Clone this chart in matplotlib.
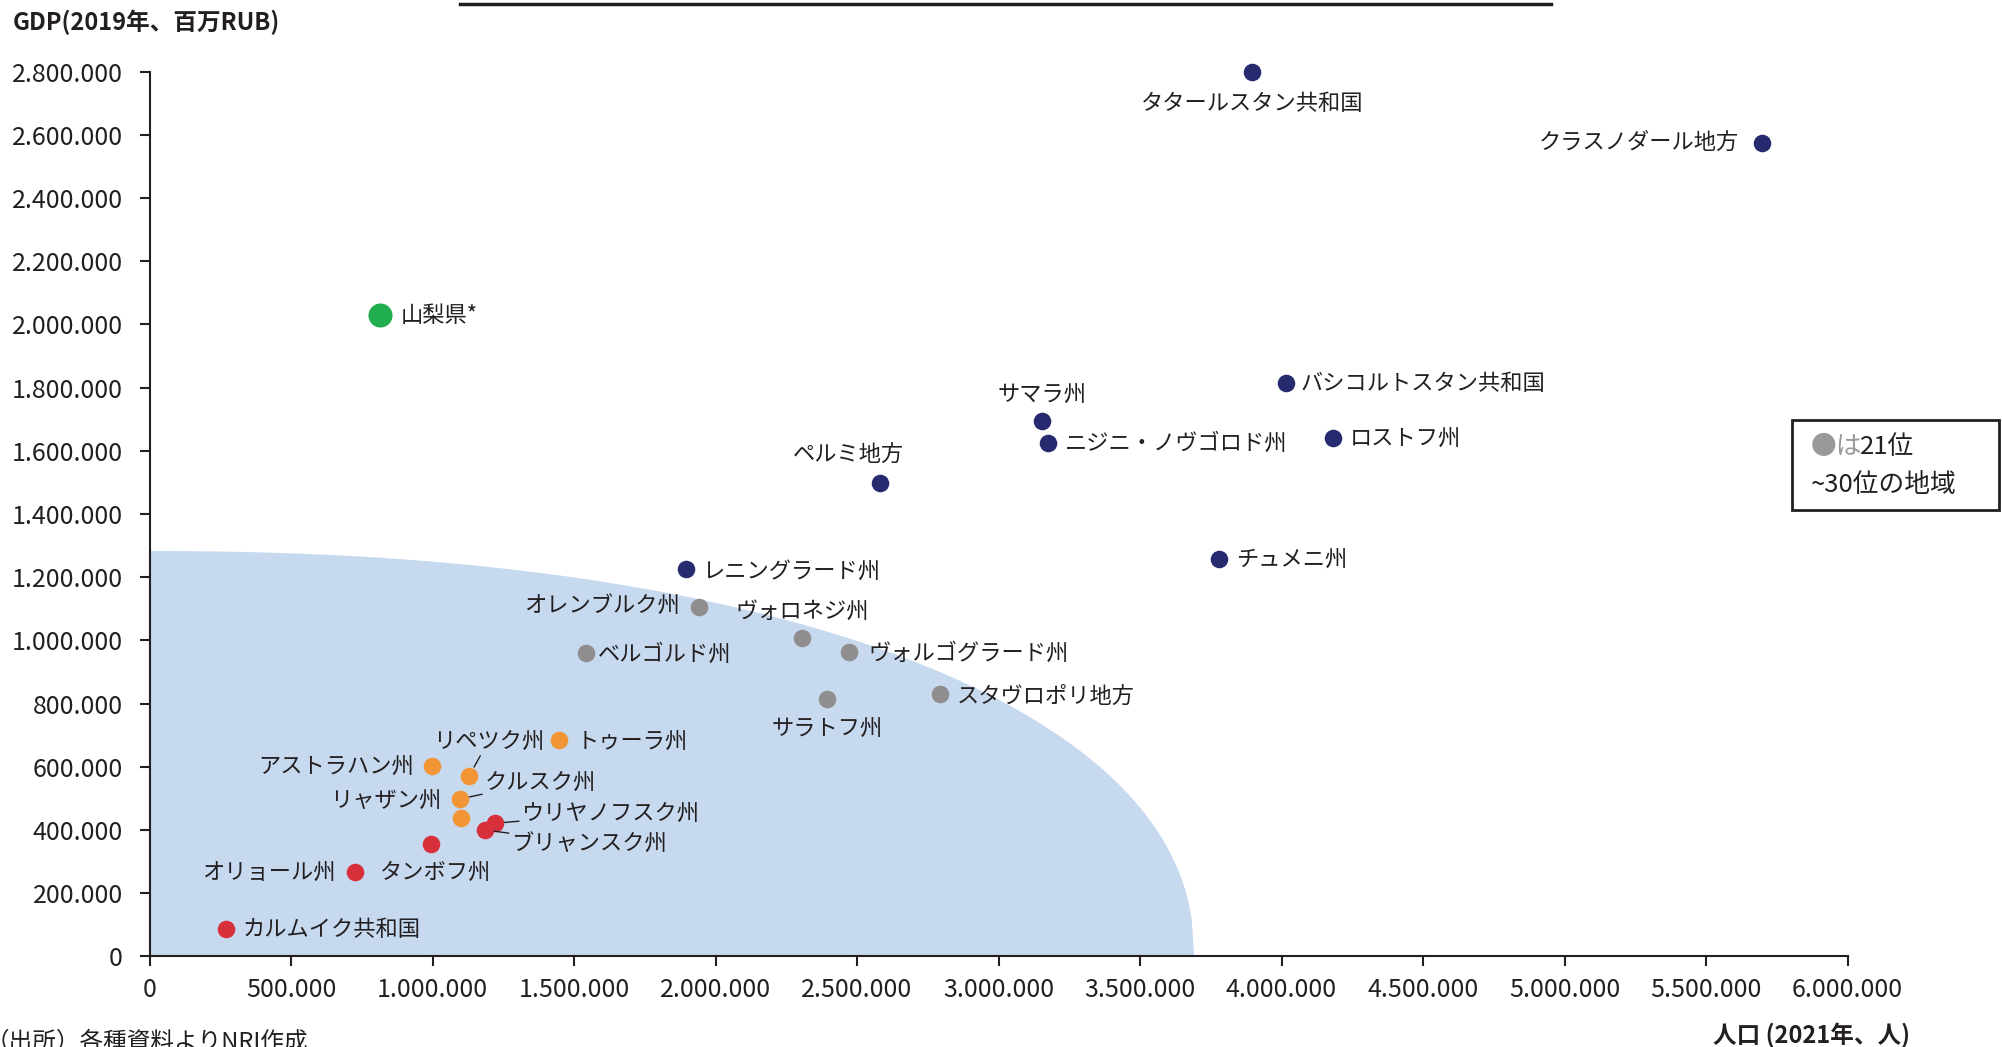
import numpy as np
import matplotlib.pyplot as plt
from matplotlib.patches import Rectangle
from matplotlib.lines import Line2D
from matplotlib.ticker import FuncFormatter

plt.rcParams["font.family"] = ["Noto Sans CJK JP", "DejaVu Sans"]

# Regions: population (2021, persons) and GDP (2019, million RUB)
navy_names = ["タタールスタン共和国", "クラスノダール地方", "バシコルトスタン共和国", "サマラ州",
              "ニジニ・ノヴゴロド州", "ロストフ州", "ペルミ地方", "チュメニ州", "レニングラード州"]
navy_pop = [3896000, 5697000, 4015000, 3153000, 3176000, 4182000, 2580000, 3780000, 1896000]
navy_gdp = [2800000, 2573000, 1814000, 1693000, 1624000, 1640000, 1499000, 1256000, 1225000]

green_names = ["山梨県*"]
green_pop = [816000]
green_gdp = [2028000]

gray_names = ["オレンブルク州", "ヴォロネジ州", "ベルゴルド州", "ヴォルゴグラード州", "サラトフ州", "スタヴロポリ地方"]
gray_pop = [1942000, 2307000, 1543000, 2473000, 2395000, 2794000]
gray_gdp = [1106000, 1006000, 959000, 964000, 814000, 829000]

orange_names = ["トゥーラ州", "アストラハン州", "リペツク州", "クルスク州", "リャザン州"]
orange_pop = [1448000, 998000, 1130000, 1097000, 1099000]
orange_gdp = [684000, 603000, 572000, 498000, 437000]

red_names = ["ウリヤノフスク州", "ブリャンスク州", "タンボフ州", "オリョール州", "カルムイク共和国"]
red_pop = [1220000, 1184000, 994000, 725000, 269000]
red_gdp = [421000, 400000, 355000, 266000, 85000]

x_ticks = np.arange(0, 6000001, 500000)
y_ticks = np.arange(0, 2800001, 200000)

# label placement: (dx, dy) in pixels, horizontal alignment, leader line
label_pos = {
    "タタールスタン共和国": (0, -32, "center", False),
    "クラスノダール地方": (-23, 1, "right", False),
    "バシコルトスタン共和国": (15, 0, "left", False),
    "サマラ州": (0, 27, "center", False),
    "ニジニ・ノヴゴロド州": (17, 0, "left", False),
    "ロストフ州": (17, 0, "left", False),
    "ペルミ地方": (-31, 27, "center", False),
    "チュメニ州": (17, 0, "left", False),
    "レニングラード州": (16, -2, "left", False),
    "山梨県*": (20, 0, "left", False),
    "オレンブルク州": (-19, 1, "right", False),
    "ヴォロネジ州": (0, 27, "center", False),
    "ベルゴルド州": (12, -1, "left", False),
    "ヴォルゴグラード州": (19, -2, "left", False),
    "サラトフ州": (0, -29, "center", False),
    "スタヴロポリ地方": (17, -2, "left", False),
    "トゥーラ州": (17, -1, "left", False),
    "アストラハン州": (-18, -1, "right", False),
    "リペツク州": (19, 34, "center", True),
    "クルスク州": (25, 17, "left", True),
    "リャザン州": (-19, 18, "right", False),
    "ウリヤノフスク州": (27, 10, "left", True),
    "ブリャンスク州": (27, -14, "left", True),
    "タンボフ州": (-51, -28, "left", False),
    "オリョール州": (-19, 0, "right", False),
    "カルムイク共和国": (17, 0, "left", False),
}

text_color = "#231F20"
W, H = 2002, 1047
fig = plt.figure(figsize=(W / 100, H / 100), dpi=100)
ax = fig.add_axes([149.5 / W, 90.7 / H, 1698 / W, 884.8 / H])

# shaded zone behind the small regions
a, b, n = 3690000, 1284000, 2.2
xs = np.linspace(0, a, 400)
ys = b * (1 - (xs / a) ** n) ** (1 / n)
ax.fill_between(xs, 0, ys, color="#C6D9EF", lw=0, zorder=1)

groups = [
    (navy_names, navy_pop, navy_gdp, "#262A6E", 160),
    (gray_names, gray_pop, gray_gdp, "#8F8D8D", 160),
    (orange_names, orange_pop, orange_gdp, "#F29535", 160),
    (red_names, red_pop, red_gdp, "#D8303A", 160),
    (green_names, green_pop, green_gdp, "#21AE4F", 300),
]

for names, pop, gdp, color, size in groups:
    ax.scatter(pop, gdp, s=size, color=color, lw=0, zorder=3, clip_on=False)
    for name, px, gy in zip(names, pop, gdp):
        dx, dy, ha, leader = label_pos[name]
        arrow = None
        if leader:
            arrow = dict(arrowstyle="-", color=text_color, lw=1.0, shrinkA=0, shrinkB=7)
        ax.annotate(name, (px, gy), xytext=(dx, dy), textcoords="offset pixels",
                    ha=ha, va="center", fontsize=16, color=text_color,
                    arrowprops=arrow, zorder=4)

ax.set_xlim(0, 6000000)
ax.set_ylim(0, 2800000)
ax.set_xticks(x_ticks)
ax.set_yticks(y_ticks)
fmt = FuncFormatter(lambda v, p: f"{v:,.0f}".replace(",", "."))
ax.xaxis.set_major_formatter(fmt)
ax.yaxis.set_major_formatter(fmt)

for side in ["top", "right"]:
    ax.spines[side].set_visible(False)
for side in ["left", "bottom"]:
    ax.spines[side].set_color(text_color)
    ax.spines[side].set_linewidth(1.5)
    ax.spines[side].set_zorder(5)

ax.tick_params(axis="y", length=7, width=1.5, color=text_color, labelsize=18,
               labelcolor=text_color, pad=12)
ax.tick_params(axis="x", length=7, width=1.5, color=text_color, labelsize=18,
               labelcolor=text_color, pad=8)

# axis titles
fig.text(13 / W, 1 - 22 / H, "GDP(2019年、百万RUB)", fontsize=17, fontweight="bold",
         color=text_color, ha="left", va="center")
fig.text(1910 / W, 1 - 1035 / H, "人口 (2021年、人)", fontsize=17, fontweight="bold",
         color=text_color, ha="right", va="center")

# source note, cut at the left edge as in the original
fig.text(308 / W, 1 - 1031 / H, "（出所）各種資料よりNRI作成", fontsize=17,
         color=text_color, ha="right", va="top")

# rule under the (cropped) title
fig.add_artist(Line2D([460 / W, 1551 / W], [1 - 3.5 / H, 1 - 3.5 / H],
                      color=text_color, lw=2.5, transform=fig.transFigure))

# note box
fig.add_artist(Rectangle((1792 / W, 1 - 510 / H), 207 / W, 90 / H, transform=fig.transFigure,
                         facecolor="white", edgecolor=text_color, lw=2))
fig.text(1811 / W, 1 - 447 / H, "●は", fontsize=18.5, color="#999999", ha="left", va="center")
fig.text(1860 / W, 1 - 447 / H, "21位", fontsize=18.5, color=text_color, ha="left", va="center")
fig.text(1811 / W, 1 - 485 / H, "~30位の地域", fontsize=18.5, color=text_color, ha="left", va="center")

fig.savefig("out.png", dpi=100)
